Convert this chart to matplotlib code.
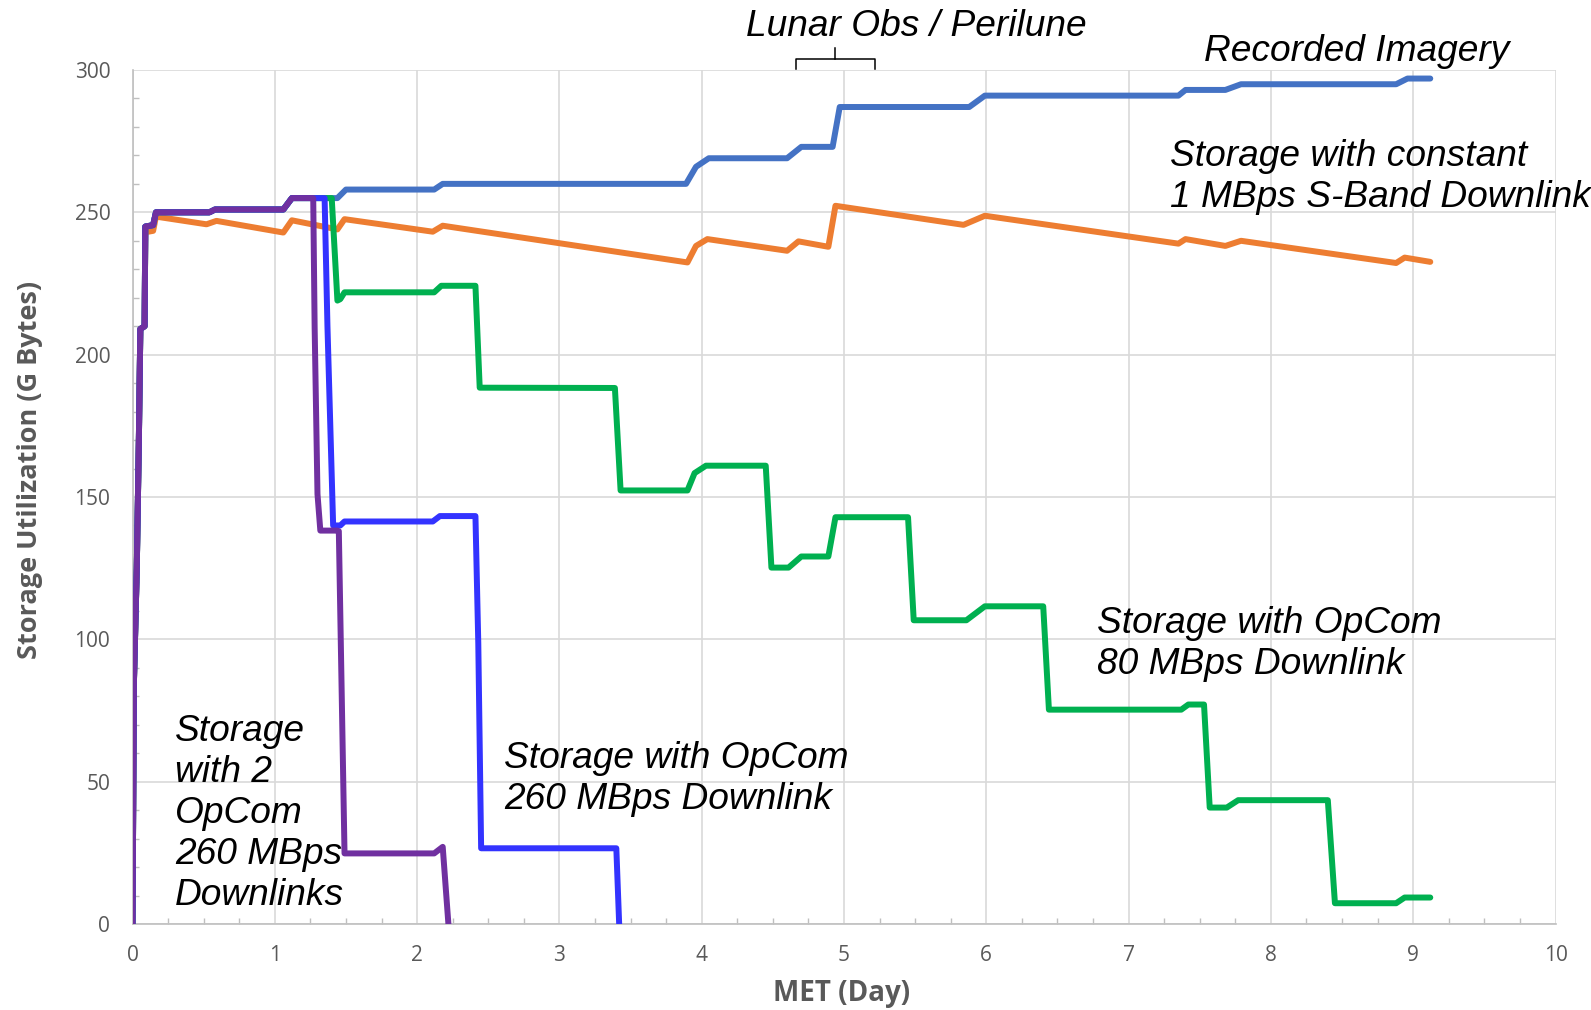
import matplotlib.pyplot as plt
from matplotlib.ticker import MultipleLocator

# ------------------------------------------------------------
# Data (MET day vs storage GB)
# ------------------------------------------------------------

# initial data load, shared by every series
ramp_day = [0.0, 0.01, 0.03, 0.045, 0.055, 0.085, 0.09, 0.145, 0.165]
ramp_gb = [0, 85, 125, 171, 209, 210, 245, 245.5, 250]

imagery_day = ramp_day + [0.54, 0.58, 1.06, 1.12, 1.44, 1.50, 2.12, 2.18, 3.89, 3.96,
                          4.05, 4.60, 4.70, 4.92, 4.97, 5.88, 5.99, 7.35, 7.40, 7.68,
                          7.79, 8.88, 8.96, 9.12]
imagery_gb = ramp_gb + [250, 251, 251, 255, 255, 258, 258, 260, 260, 266,
                        269, 269, 273, 273, 287, 287, 291, 291, 293, 293,
                        295, 295, 297, 297]

sband_day = [0, 0.01, 0.03, 0.045, 0.055, 0.085, 0.09, 0.145, 0.165, 0.52, 0.59,
             1.06, 1.12, 1.44, 1.49, 2.11, 2.18, 3.90, 3.96, 4.04, 4.60, 4.68,
             4.89, 4.94, 5.84, 5.99, 7.35, 7.40, 7.68, 7.79, 8.88, 8.94, 9.12]
sband_gb = [0, 85, 125, 171, 209, 210, 243, 243.5, 248.5, 245.8, 247,
            242.9, 247.2, 244, 247.6, 243.2, 245.3, 232.4, 238.2, 240.6, 236.5, 239.8,
            237.9, 252.3, 245.6, 248.8, 239, 240.6, 238.2, 240, 232.2, 234.1, 232.6]

opcom80_day = ramp_day + [0.54, 0.58, 1.06, 1.12, 1.40, 1.44, 1.46, 1.49, 2.12, 2.17,
                          2.41, 2.44, 3.39, 3.43, 3.90, 3.95, 4.03, 4.45, 4.49, 4.61,
                          4.70, 4.89, 4.94, 5.45, 5.49, 5.86, 5.99, 6.40, 6.44, 7.37,
                          7.42, 7.53, 7.57, 7.69, 7.77, 8.40, 8.45, 8.88, 8.94, 9.12]
opcom80_gb = ramp_gb + [250, 251, 251, 255, 255, 219, 219.5, 221.9, 221.9, 224.2,
                        224.2, 188.4, 188.3, 152.3, 152.3, 158.4, 161, 161, 125.2, 125.2,
                        129.1, 129.1, 142.9, 142.9, 106.7, 106.7, 111.6, 111.6, 75.3, 75.3,
                        77.1, 77.1, 40.9, 40.9, 43.5, 43.5, 7.3, 7.3, 9.3, 9.3]

opcom260_day = ramp_day + [0.54, 0.58, 1.06, 1.12, 1.35, 1.37, 1.41, 1.46, 1.49,
                           2.11, 2.16, 2.41, 2.43, 2.45, 3.40, 3.42]
opcom260_gb = ramp_gb + [250, 251, 251, 255, 255, 210, 140, 140, 141.4,
                         141.4, 143.3, 143.3, 98.5, 26.6, 26.6, 0]

dual_day = ramp_day + [0.54, 0.58, 1.06, 1.12, 1.27, 1.28, 1.30, 1.32, 1.44, 1.45,
                       1.49, 2.12, 2.18, 2.22]
dual_gb = ramp_gb + [250, 251, 251, 255, 255, 209.6, 151, 138.2, 138.2, 138,
                     24.8, 24.8, 27.1, 0]

x_ticks = list(range(0, 11))
y_ticks = [0, 50, 100, 150, 200, 250, 300]

# ------------------------------------------------------------
# Figure
# ------------------------------------------------------------

fig = plt.figure(figsize=(15.91, 10.10), dpi=100)
ax = fig.add_axes([132.5 / 1591, 1 - 924 / 1010, 1423 / 1591, 854 / 1010])

lw = 4.3
style = dict(linewidth=lw, solid_joinstyle='round', solid_capstyle='round')
ax.plot(imagery_day, imagery_gb, color='#4472C4', zorder=3, **style)
ax.plot(sband_day, sband_gb, color='#ED7D31', zorder=4, **style)
ax.plot(opcom80_day, opcom80_gb, color='#00B050', zorder=5, **style)
ax.plot(opcom260_day, opcom260_gb, color='#3333FF', zorder=6, **style)
ax.plot(dual_day, dual_gb, color='#7030A0', zorder=7, **style)

ax.set_xlim(0, 10)
ax.set_ylim(0, 300)
ax.set_xticks(x_ticks)
ax.set_yticks(y_ticks)
ax.xaxis.set_minor_locator(MultipleLocator(0.25))
ax.yaxis.set_minor_locator(MultipleLocator(10))

ax.grid(True, which='major', color='#D9D9D9', linewidth=1.2, zorder=0)
ax.set_axisbelow(True)
for s in ['top', 'right']:
    ax.spines[s].set_visible(False)
for s in ['left', 'bottom']:
    ax.spines[s].set_color('#BFBFBF')
    ax.spines[s].set_linewidth(1.2)

ax.tick_params(which='both', direction='in', color='#BFBFBF', width=1.0)
ax.tick_params(which='major', length=0)
ax.tick_params(which='minor', length=4)
ax.tick_params(axis='x', which='major', pad=15, labelsize=15, labelcolor='#595959')
ax.tick_params(axis='y', which='major', pad=16, labelsize=15, labelcolor='#595959')
for lab in ax.get_xticklabels() + ax.get_yticklabels():
    lab.set_family('Open Sans')

fig.text(842 / 1591, 1 - 994 / 1010, 'MET (Day)', ha='center', va='center',
         fontsize=20, fontweight='bold', color='#595959', family='Open Sans')
fig.text(30.4 / 1591, 1 - 470 / 1010, 'Storage Utilization (G Bytes)', ha='center',
         va='center', rotation=90, fontsize=19.5, fontweight='bold', color='#595959',
         family='Open Sans')

# ------------------------------------------------------------
# Annotations
# ------------------------------------------------------------

note = dict(fontsize=26.7, style='italic', family='Liberation Sans', color='black',
            ha='left', va='center', clip_on=False, linespacing=1.22, zorder=10)

ax.text(7.53, 306.4, 'Recorded Imagery', **note)
ax.text(7.29, 262.4, 'Storage with constant\n1 MBps S-Band Downlink', **note)
ax.text(6.78, 98.5, 'Storage with OpCom\n80 MBps Downlink', **note)
ax.text(2.61, 50.8, 'Storage with OpCom\n260 MBps Downlink', **note)
ax.text(0.30, 38.7, 'Storage\nwith 2\nOpCom\n260 MBps\nDownlinks', **note)

ax.text(5.51, 315.4, 'Lunar Obs / Perilune', fontsize=26.7, style='italic',
        family='Liberation Sans', ha='center', va='center', clip_on=False)

# bracket over the lunar observation window
br_left, br_right, br_mid = 4.66, 5.22, 4.94
ax.plot([br_left, br_left, br_right, br_right], [300.4, 303.7, 303.7, 300.4],
        color='black', linewidth=1.1, clip_on=False)
ax.plot([br_mid, br_mid], [303.7, 307.8], color='black', linewidth=1.1, clip_on=False)

fig.savefig('out.png', dpi=100)
